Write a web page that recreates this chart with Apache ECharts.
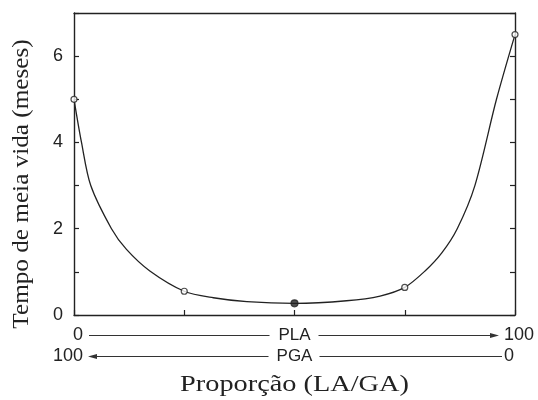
<!DOCTYPE html>
<html>
<head>
<meta charset="utf-8">
<script src="https://cdn.jsdelivr.net/npm/echarts@6/dist/echarts.min.js"></script>
<style>
  html, body { margin: 0; padding: 0; background: #fff; }
  #chart { width: 538px; height: 400px; }
</style>
</head>
<body>
<div id="chart"></div>
<script>
// Measured half-life at each LA/GA proportion (PLA %)
const measuredX = [0, 25, 50, 75, 100];
const measuredHalfLife = [5.0, 0.55, 0.27, 0.64, 6.5];

// Fitted degradation curve through the measurements
const curveX = [0, 1.7, 3.8, 8.5, 11.9, 17.2, 25, 31.6, 39.2, 50, 61.8, 69.4, 75, 79.6, 83.4, 86.9, 90.9, 95.8, 100];
const curveY = [5.0, 4.0, 3.0, 2.0, 1.52, 1.02, 0.55, 0.40, 0.31, 0.27, 0.33, 0.44, 0.64, 1.02, 1.44, 2.0, 3.0, 5.0, 6.5];

// Labelled y ticks
const yTickLabels = [0, 2, 4, 6];

// Composition scale labels under the axis
const plaScale = ['0', 'PLA', '100'];
const pgaScale = ['100', 'PGA', '0'];
const yAxisTitle = 'Tempo de meia vida (meses)';
const xAxisTitle = 'Proporção (LA/GA)';

const INK = '#222';
const sans = '"Liberation Sans", Arial, sans-serif';
const serif = '"Liberation Serif", "Times New Roman", serif';

const chart = echarts.init(document.getElementById('chart'), null, { renderer: 'canvas' });

const pointData = measuredX.map((x, i) => {
  const filled = x === 50;
  return {
    value: [x, measuredHalfLife[i]],
    symbolSize: filled ? 7 : 6,
    itemStyle: { color: filled ? INK : '#fff', borderColor: INK, borderWidth: 1.2 }
  };
});

const frameLine = { onZero: false, lineStyle: { color: INK, width: 1.4 } };
const innerTick = { inside: true, length: 5, lineStyle: { color: INK, width: 1.2 } };

const option = {
  animation: false,
  backgroundColor: '#fff',
  grid: { left: 74, right: 23, top: 13, bottom: 85 },
  xAxis: [
    {
      type: 'value', min: 0, max: 100, interval: 25, position: 'bottom',
      axisLine: frameLine, axisTick: innerTick,
      axisLabel: { show: false }, splitLine: { show: false }
    },
    {
      type: 'value', min: 0, max: 100, position: 'top',
      axisLine: frameLine,
      axisTick: { show: false }, axisLabel: { show: false }, splitLine: { show: false }
    }
  ],
  yAxis: [
    {
      type: 'value', min: 0, max: 7, interval: 1, position: 'left',
      axisLine: Object.assign({ show: true }, frameLine), axisTick: innerTick,
      axisLabel: {
        margin: 11, color: INK, fontFamily: sans, fontSize: 18,
        formatter: v => (yTickLabels.indexOf(v) >= 0 ? String(v) : '')
      },
      splitLine: { show: false }
    },
    {
      type: 'value', min: 0, max: 7, interval: 1, position: 'right',
      axisLine: Object.assign({ show: true }, frameLine), axisTick: innerTick,
      axisLabel: { show: false }, splitLine: { show: false }
    }
  ],
  series: [
    {
      type: 'line',
      data: curveX.map((x, i) => [x, curveY[i]]),
      smooth: 0.3,
      showSymbol: false,
      lineStyle: { color: INK, width: 1.3 },
      z: 2
    },
    {
      type: 'scatter',
      data: pointData,
      symbol: 'circle',
      z: 3
    }
  ]
};

chart.setOption(option);

// Composition scales, arrows and axis titles placed from the grid coordinates
const px = v => chart.convertToPixel({ xAxisIndex: 0 }, v);
const x0 = px(0), xMid = px(50), x100 = px(100);
const row1 = 335.5, row2 = 356.5;
const lineStyle = { stroke: '#333', lineWidth: 1.2 };

function txt(text, x, y, align, font) {
  return {
    type: 'text', x: x, y: y,
    style: { text: text, font: font, fill: INK, align: align, verticalAlign: 'middle', textAlign: align, textVerticalAlign: 'middle' }
  };
}
function seg(xa, xb, y) {
  return { type: 'line', shape: { x1: xa, y1: y, x2: xb, y2: y }, style: lineStyle };
}
function arrowHead(tipX, y, dir) {
  const len = 9, half = 2.6;
  return {
    type: 'polygon',
    shape: { points: [[tipX, y], [tipX - dir * len, y - half], [tipX - dir * len, y + half]] },
    style: { fill: '#333' }
  };
}

const scaleFont = '18px ' + sans;
const graphics = [
  // PLA row: 0 → 100
  txt(plaScale[0], x0 + 9, row1, 'right', scaleFont),
  seg(x0 + 15, xMid - 25, row1),
  txt(plaScale[1], xMid, row1, 'center', '17px ' + sans),
  seg(xMid + 24, x100 - 20, row1),
  arrowHead(x100 - 16, row1, 1),
  txt(plaScale[2], x100 - 11, row1, 'left', scaleFont),
  // PGA row: 100 ← 0
  txt(pgaScale[0], x0 + 9, row2, 'right', scaleFont),
  arrowHead(x0 + 14, row2, -1),
  seg(x0 + 20, xMid - 26, row2),
  txt(pgaScale[1], xMid, row2, 'center', '17px ' + sans),
  seg(xMid + 25, x100 - 13, row2),
  txt(pgaScale[2], x100 - 11, row2, 'left', scaleFont),
  // Axis titles
  Object.assign(txt(xAxisTitle, xMid, 385, 'center', '24px ' + serif), { scaleX: 1.18 }),
  Object.assign(txt(yAxisTitle, 22, 184, 'center', '24px ' + serif), { rotation: Math.PI / 2, scaleX: 1.05 })
];

chart.setOption({ graphic: graphics });
</script>
</body>
</html>
